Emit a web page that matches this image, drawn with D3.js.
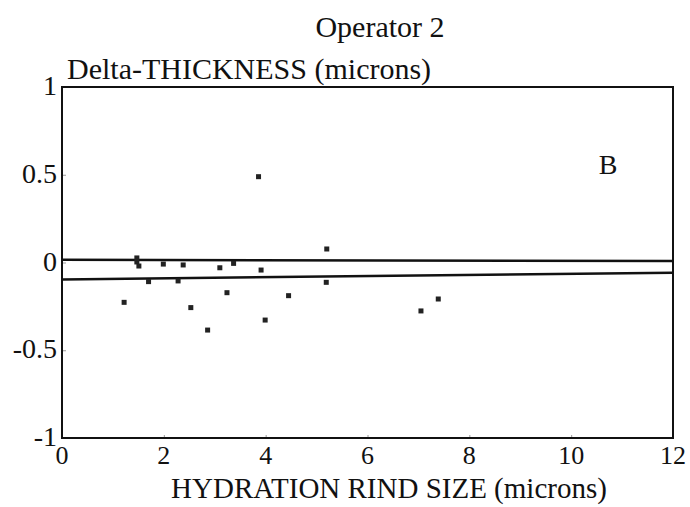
<!DOCTYPE html>
<html>
<head>
<meta charset="utf-8">
<script src="https://cdn.jsdelivr.net/npm/d3@7"></script>
<style>
  body { margin: 0; background: #fff; }
  svg { display: block; }
</style>
</head>
<body>
<div id="chart"></div>
<script>
// rind size (microns) vs delta thickness (microns)
const rindSize = [3.86, 1.47, 1.47, 1.51, 1.99, 2.38, 3.10, 3.37, 3.91, 5.20, 1.70, 2.28, 5.19, 1.22, 3.24, 4.45, 2.53, 3.99, 2.86, 7.39, 7.05];
const deltaThick = [0.489, 0.026, 0.003, -0.02, -0.009, -0.014, -0.03, -0.005, -0.043, 0.077, -0.109, -0.105, -0.113, -0.227, -0.172, -0.189, -0.257, -0.328, -0.385, -0.208, -0.276];

// the two fitted lines: [x, y] at each end
const upperLine = [[0, 0.015], [12, 0.009]];
const lowerLine = [[0, -0.097], [12, -0.058]];

const xTicks = [0, 2, 4, 6, 8, 10, 12];
const yTicks = [1, 0.5, 0, -0.5, -1];

const width = 690, height = 507;
const margin = { top: 87, right: 17, bottom: 69, left: 62 };
const serif = "'Liberation Serif', 'DejaVu Serif', serif";

const svg = d3.select('#chart').append('svg')
  .attr('width', width).attr('height', height)
  .attr('font-family', serif);

const x = d3.scaleLinear().domain([0, 12]).range([margin.left, width - margin.right]);
const y = d3.scaleLinear().domain([-1, 1]).range([height - margin.bottom, margin.top]);

// inward ticks
svg.append('g')
  .attr('transform', `translate(0,${y(-1)})`)
  .call(d3.axisTop(x).tickValues(xTicks).tickSize(3).tickFormat(''))
  .call(g => g.select('.domain').remove())
  .call(g => g.selectAll('line').attr('stroke', '#999'));

svg.append('g')
  .attr('transform', `translate(${x(0)},0)`)
  .call(d3.axisRight(y).tickValues(yTicks).tickSize(4).tickFormat(''))
  .call(g => g.select('.domain').remove())
  .call(g => g.selectAll('line').attr('stroke', '#999'));

// tick labels
svg.append('g').selectAll('text').data(xTicks).join('text')
  .attr('x', d => x(d)).attr('y', 464)
  .attr('text-anchor', 'middle').attr('font-size', 26).attr('fill', '#111')
  .style('font-family', serif)
  .text(d => d);

svg.append('g').selectAll('text').data(yTicks).join('text')
  .attr('x', x(0) - 5).attr('y', d => y(d) + 8)
  .attr('text-anchor', 'end').attr('font-size', 28).attr('fill', '#111')
  .style('font-family', serif)
  .text(d => d);

// frame
svg.append('rect')
  .attr('x', x(0)).attr('y', y(1))
  .attr('width', x(12) - x(0)).attr('height', y(-1) - y(1))
  .attr('fill', 'none').attr('stroke', '#111').attr('stroke-width', 2);

// fitted lines
const line = d3.line().x(d => x(d[0])).y(d => y(d[1]));
[upperLine, lowerLine].forEach(l => {
  svg.append('path').attr('d', line(l))
    .attr('fill', 'none').attr('stroke', '#111').attr('stroke-width', 2.5);
});

// points
svg.append('g').selectAll('rect')
  .data(d3.range(rindSize.length)).join('rect')
  .attr('x', i => x(rindSize[i]) - 2.5).attr('y', i => y(deltaThick[i]) - 2.5)
  .attr('width', 5).attr('height', 5).attr('fill', '#222');

// texts
const label = (tx, ty, anchor, s) => svg.append('text')
  .attr('x', tx).attr('y', ty).attr('text-anchor', anchor)
  .attr('font-size', 30).attr('fill', '#111')
  .style('font-family', serif).text(s);

label(380, 37, 'middle', 'Operator 2');
label(67, 79, 'start', 'Delta-THICKNESS (microns)');
label(608, 174, 'middle', 'B').attr('font-size', 28);
label(389, 498, 'middle', 'HYDRATION RIND SIZE (microns)').attr('font-size', 29);
</script>
</body>
</html>
